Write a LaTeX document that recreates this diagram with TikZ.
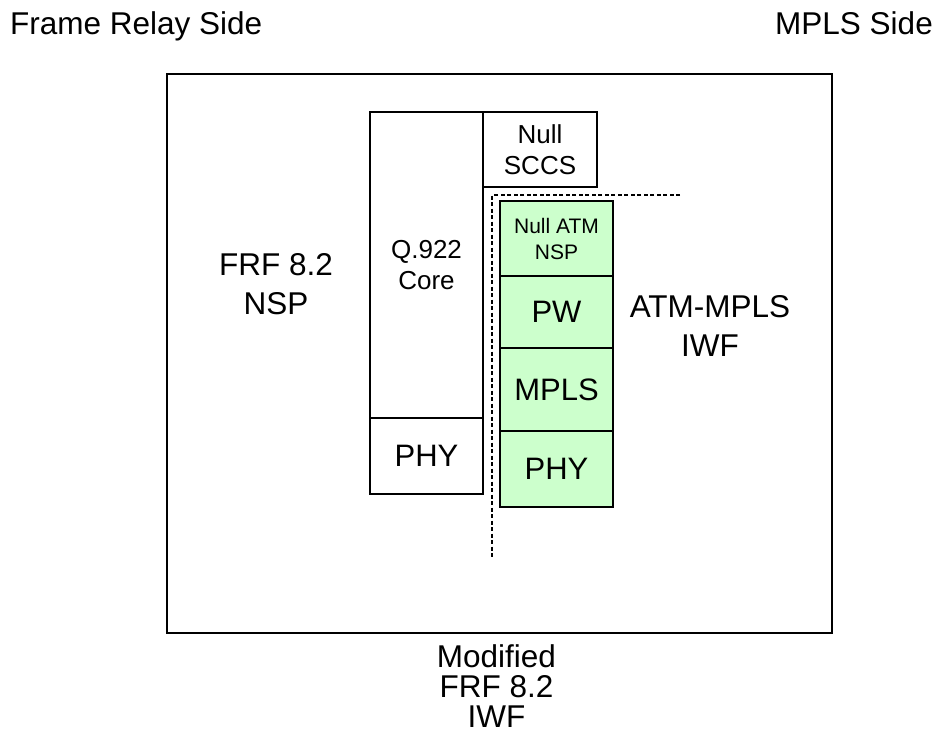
\documentclass[tikz,border=0pt]{standalone}
\usepackage{fontspec}
\setmainfont{Liberation Sans}
\usetikzlibrary{positioning}
\definecolor{stackgreen}{RGB}{204,255,204}
\definecolor{lineblack}{RGB}{0,0,0}

\begin{document}
\begin{tikzpicture}[
    x=1pt, y=-1pt,
    layer/.style={rectangle, draw=lineblack, line width=1.5pt, fill=white, inner sep=0pt, outer sep=0pt,
                  minimum width=113pt, align=center, font=\fontsize{31}{37}\selectfont},
    greenlayer/.style={layer, fill=stackgreen},
    midtxt/.style={font=\fontsize{26}{31}\selectfont},
    smalltxt/.style={font=\fontsize{21}{26}\selectfont},
    label/.style={inner sep=0pt, align=center, font=\fontsize{31.5}{39}\selectfont},
    border/.style={dashed, dash pattern=on 4pt off 2.5pt, line width=1.4pt, lineblack}
]
\useasboundingbox (0,0) rectangle (939,745);

% outer IWF frame
\node[rectangle, draw=lineblack, line width=2.2pt, minimum width=665pt, minimum height=559pt, inner sep=0pt] (frame) at (499.5,353.5) {};

% side titles
\node[label, anchor=base west] (frside) at (10,34) {Frame Relay Side};
\node[label, anchor=base east] (mplsside) at (933,34) {MPLS Side};

% frame relay stack
\node[layer, midtxt, minimum height=306pt] (q922) at (426.5,265) {Q.922\\Core};
\node[layer, minimum height=76pt, below=0pt of q922] (phyfr) {PHY};
\node[layer, midtxt, minimum width=114pt, minimum height=75pt, anchor=north west] (sccs) at (q922.north east) {Null\\SCCS};

% ATM-MPLS stack
\node[greenlayer, smalltxt, minimum height=75pt] (nullatm) at (556.5,238.5) {Null ATM\\NSP};
\node[greenlayer, minimum height=72pt, below=0pt of nullatm] (pw) {PW};
\node[greenlayer, minimum height=83pt, below=0pt of pw] (mpls) {MPLS};
\node[greenlayer, minimum height=76pt, below=0pt of mpls] (phympls) {PHY};

% boundary of the modified part
\draw[border] (680,195) -- (492,195) -- (492,557);

% function labels
\node[label] (nsp) at (276,284) {FRF 8.2\\NSP};
\node[label] (atmiwf) at (710,325.5) {ATM-MPLS\\IWF};
\node[label, font=\fontsize{31.5}{30}\selectfont] (modiwf) at (496.5,686) {Modified\\FRF 8.2\\IWF};
\end{tikzpicture}
\end{document}
